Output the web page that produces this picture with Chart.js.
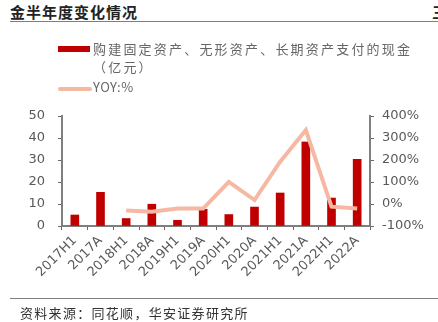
<!DOCTYPE html>
<html lang="zh">
<head>
<meta charset="UTF-8">
<title>金半年度变化情况</title>
<script src="https://cdn.jsdelivr.net/npm/chart.js"></script>
<style>
  html, body { margin: 0; padding: 0; background: #fff; }
  body { width: 438px; height: 322px; position: relative; overflow: hidden; font-family: "Noto Sans CJK SC", sans-serif; }
  #chart-wrap { position: absolute; left: 0; top: 0; width: 438px; height: 322px; }
  .title { position: absolute; left: 10px; top: 1px; font-size: 15px; font-weight: bold; color: #222; letter-spacing: 1px; }
  .cut { position: absolute; left: 432px; top: 1px; font-size: 15px; font-weight: bold; color: #222; }
  .rule { position: absolute; left: 10px; right: 0; height: 0; border-top: 1.5px solid #7f7f7f; }
  .legend { position: absolute; left: 58px; top: 40px; font-size: 13px; color: #666; }
  .legend .item { position: relative; padding-left: 35px; letter-spacing: 2.2px; line-height: 18px; width: 320px; }
  .legend .sw { position: absolute; left: 0; }
  .source { position: absolute; left: 20px; top: 303px; font-size: 13px; color: #333; letter-spacing: 1.3px; }
</style>
</head>
<body>
  <div class="title">金半年度变化情况</div>
  <div class="cut">三</div>
  <div class="rule" style="top:21px"></div>
  <div id="chart-wrap"><canvas id="chart" width="438" height="322"></canvas></div>
  <div class="legend" id="legend"></div>
  <div class="rule" style="top:298px"></div>
  <div class="source">资料来源：同花顺，华安证券研究所</div>

<script>
const categories = ["2017H1", "2017A", "2018H1", "2018A", "2019H1", "2019A", "2020H1", "2020A", "2021H1", "2021A", "2022H1", "2022A"];
const capexValues = [5.0, 15.3, 3.4, 9.9, 2.6, 7.6, 5.2, 8.6, 15.0, 38.2, 12.7, 30.3];
const yoyValues = [null, null, -30, -35, -21, -21, 101, 18, 192, 336, -12, -20];
const leftTicks = [0, 10, 20, 30, 40, 50];
const rightTicks = [-100, 0, 100, 200, 300, 400];

const barLabel = "购建固定资产、无形资产、长期资产支付的现金（亿元）";
const lineLabel = "YOY:%";
const red = "#c00000";
const salmon = "#f5b8a2";
const axisGray = "#7f7f7f";
const textGray = "#595959";

const tickFont = { family: "DejaVu Sans", size: 13 };

const chart = new Chart(document.getElementById("chart"), {
  data: {
    labels: categories,
    datasets: [
      {
        type: "line",
        label: lineLabel,
        data: yoyValues,
        yAxisID: "y1",
        borderColor: salmon,
        backgroundColor: salmon,
        borderWidth: 4,
        pointRadius: 0,
        tension: 0,
        order: 0
      },
      {
        type: "bar",
        label: barLabel,
        data: capexValues,
        yAxisID: "y",
        backgroundColor: red,
        barThickness: 8,
        order: 1
      }
    ]
  },
  options: {
    responsive: false,
    animation: false,
    layout: { padding: { top: 116, left: 0, right: 0, bottom: 0 } },
    plugins: { legend: { display: false }, tooltip: { enabled: false } },
    scales: {
      x: {
        offset: true,
        grid: { drawOnChartArea: false, drawTicks: true, tickLength: 4, color: "#666", offset: true },
        border: { color: axisGray, width: 2 },
        ticks: { color: textGray, font: tickFont, minRotation: 45, maxRotation: 45, padding: 3, autoSkip: false },
        afterFit: s => { s.height = 96; }
      },
      y: {
        position: "left",
        min: leftTicks[0],
        max: leftTicks[leftTicks.length - 1],
        afterBuildTicks: s => { s.ticks = leftTicks.map(v => ({ value: v })); },
        grid: { drawOnChartArea: false, tickLength: 4, color: "#666" },
        border: { color: axisGray, width: 2 },
        ticks: { color: textGray, font: tickFont, padding: 13 },
        afterFit: s => { s.width = 62; }
      },
      y1: {
        position: "right",
        min: rightTicks[0],
        max: rightTicks[rightTicks.length - 1],
        afterBuildTicks: s => { s.ticks = rightTicks.map(v => ({ value: v })); },
        grid: { drawOnChartArea: false, tickLength: 4, color: "#666" },
        border: { color: axisGray, width: 2 },
        ticks: { color: textGray, font: tickFont, padding: 8, callback: v => v + "%" },
        afterFit: s => { s.width = 68; }
      }
    }
  }
});

// html legend built from the datasets
const legend = document.getElementById("legend");
chart.data.datasets.slice().reverse().forEach(ds => {
  const item = document.createElement("div");
  item.className = "item";
  const sw = document.createElement("span");
  sw.className = "sw";
  if (ds.type === "bar") {
    sw.style.cssText = "top:6px;width:32px;height:6px;background:" + ds.backgroundColor;
  } else {
    sw.style.cssText = "top:9px;width:34px;height:4px;border-radius:2px;background:" + ds.borderColor;
    item.style.marginTop = "2px";
    item.style.letterSpacing = "0.5px";
  }
  item.appendChild(sw);
  item.appendChild(document.createTextNode(ds.label));
  legend.appendChild(item);
});
</script>
</body>
</html>
